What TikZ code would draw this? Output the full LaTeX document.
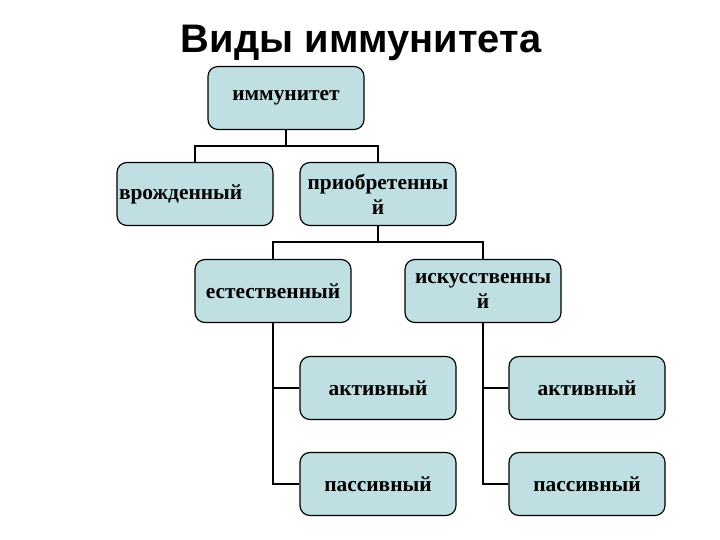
\documentclass[tikz,border=0pt]{standalone}
\usepackage{fontspec}
\setmainfont{Liberation Serif}
\newfontfamily\titlefont{Liberation Sans}
\usepackage{tikz}
\usetikzlibrary{positioning,calc}
\definecolor{boxfill}{HTML}{C0DFE3}

\begin{document}
\begin{tikzpicture}[x=1bp,y=-1bp,font=\fontsize{21.5}{25}\selectfont\bfseries,every node/.style={align=center},
  unit/.style={draw=black,line width=1.2bp,fill=boxfill,rounded corners=3.5mm,minimum width=156bp,minimum height=63bp,inner sep=1bp},
  link/.style={line width=2.4bp}]
  \useasboundingbox (0,0) rectangle (720,540);
  \node[font=\titlefont\fontsize{40}{44}\selectfont\bfseries] (title) at (361,43) {Виды иммунитета};
  \node[unit] (immun) at (286,98) {иммунитет};
  \node[unit,align=left,text width=152bp] (innate) at (195,194) {врожденный};
  \node[unit] (acquired) at (378,194) {приобретенны\\й};
  \node[unit] (natural) at (273,291) {естественный};
  \node[unit] (artificial) at (483,291) {искусственны\\й};
  \node[unit] (natact) at (378,388) {активный};
  \node[unit] (artact) at (587,388) {активный};
  \node[unit] (natpas) at (378,484) {пассивный};
  \node[unit] (artpas) at (587,484) {пассивный};
  \draw[link] (immun.south) -- ++(0,16) -| (innate.north);
  \draw[link] (immun.south) -- ++(0,16) -| (acquired.north);
  \draw[link] (acquired.south) -- ++(0,16) -| (natural.north);
  \draw[link] (acquired.south) -- ++(0,16) -| (artificial.north);
  \draw[link] (natural.south) |- (natact.west);
  \draw[link] (natural.south) |- (natpas.west);
  \draw[link] (artificial.south) |- (artact.west);
  \draw[link] (artificial.south) |- (artpas.west);
\end{tikzpicture}
\end{document}
